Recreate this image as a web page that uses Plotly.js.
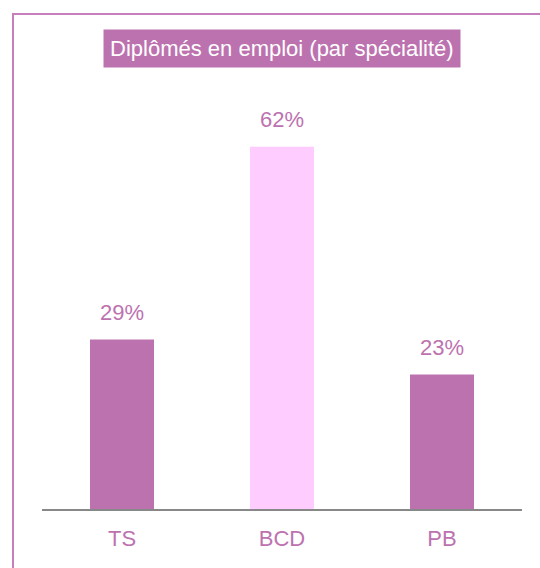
<!DOCTYPE html>
<html>
<head>
<meta charset="utf-8">
<script src="https://cdn.plot.ly/plotly-3.0.1.min.js"></script>
<style>
html,body{margin:0;padding:0;background:#fff;}
#chart{width:540px;height:568px;}
</style>
</head>
<body>
<div id="chart"></div>
<script>
const categories = ["TS", "BCD", "PB"];
const values = [29, 62, 23];
const barColors = ["#BD72B0", "#FFCCFF", "#BD72B0"];
const valueLabels = ["29%", "62%", "23%"];
const titleText = "Diplômés en emploi (par spécialité)";

const FONT = "'Liberation Sans', Arial, sans-serif";
const PURPLE = "#BD72B0";

const W = 540, H = 568;
const m = {l: 42, r: 18, t: 100, b: 59};
const pw = W - m.l - m.r, ph = H - m.t - m.b;
const px = x => (x - m.l) / pw;
const py = y => (H - m.b - y) / ph;

const annotations = categories.map((c, i) => ({
  x: c, y: values[i], xref: 'x', yref: 'y',
  text: valueLabels[i], showarrow: false,
  yanchor: 'bottom', yshift: 13,
  font: {family: FONT, size: 22, color: PURPLE}
}));
annotations.push({
  x: 0.5, xref: 'paper', y: py(49), yref: 'paper',
  text: titleText, showarrow: false,
  xanchor: 'center', yanchor: 'middle',
  bgcolor: PURPLE, borderpad: 6,
  font: {family: FONT, size: 22, color: "#FFFFFF"}
});

const layout = {
  width: W, height: H,
  margin: m,
  paper_bgcolor: "#FFFFFF", plot_bgcolor: "#FFFFFF",
  showlegend: false,
  bargap: 0.6,
  xaxis: {
    type: 'category',
    showline: true, linecolor: "#888888", linewidth: 2,
    showgrid: false, zeroline: false, ticks: '',
    ticklabelstandoff: 9,
    tickfont: {family: FONT, size: 22, color: PURPLE},
    fixedrange: true
  },
  yaxis: {
    range: [0, 70], visible: false, showgrid: false, zeroline: false, fixedrange: true
  },
  annotations: annotations,
  shapes: [
    {type: 'line', xref: 'paper', yref: 'paper', x0: px(13), x1: px(13), y0: py(13), y1: py(600), line: {color: "#C47FBC", width: 2}},
    {type: 'line', xref: 'paper', yref: 'paper', x0: px(12), x1: px(600), y0: py(14), y1: py(14), line: {color: "#C47FBC", width: 2}}
  ]
};

Plotly.newPlot('chart', [{
  type: 'bar', x: categories, y: values,
  marker: {color: barColors},
  hoverinfo: 'none'
}], layout, {staticPlot: true, displayModeBar: false});
</script>
</body>
</html>
